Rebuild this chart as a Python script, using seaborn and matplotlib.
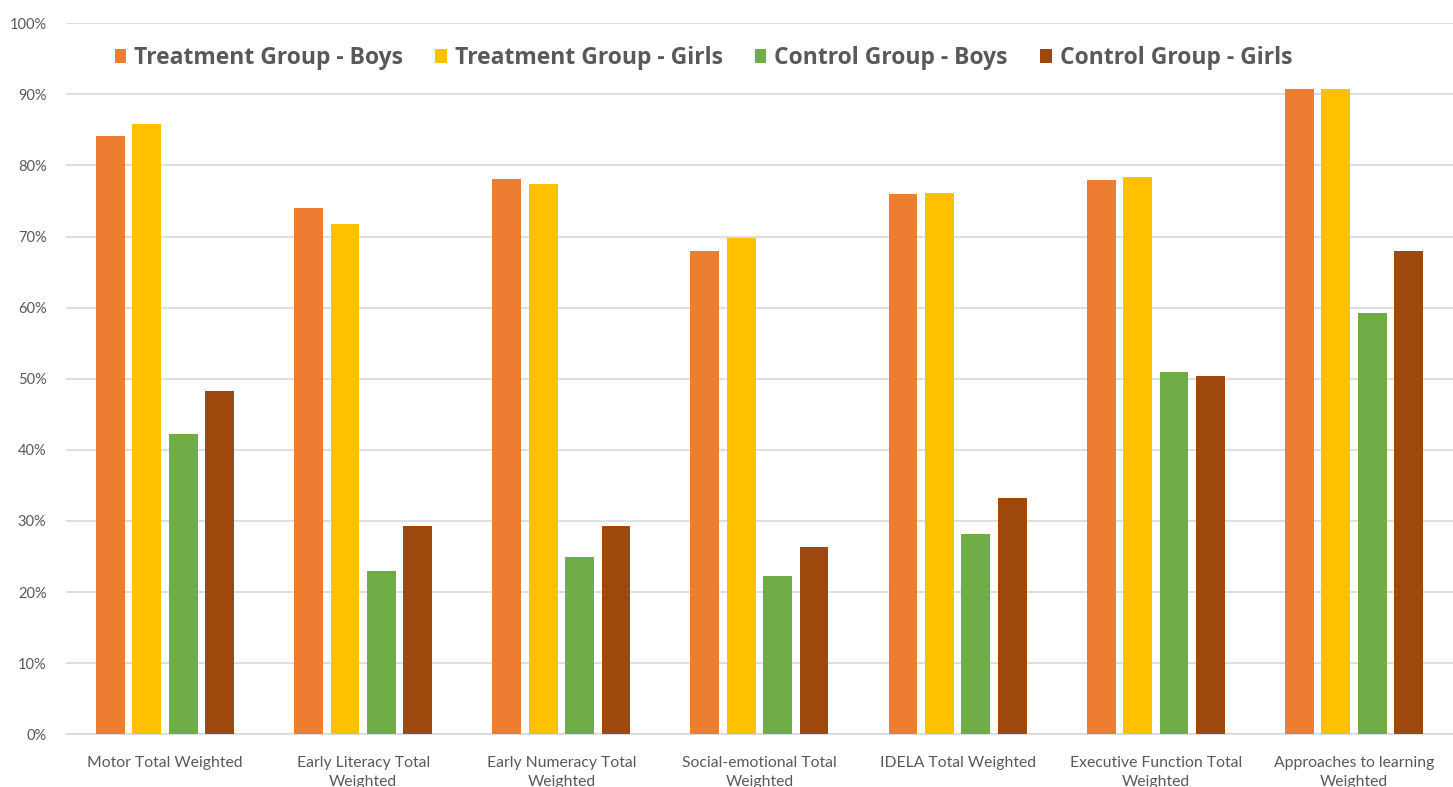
import matplotlib
matplotlib.use("Agg")
import matplotlib.pyplot as plt
import matplotlib.ticker as mticker
import seaborn as sns
import pandas as pd

categories = [
    "Motor Total Weighted",
    "Early Literacy Total\nWeighted",
    "Early Numeracy Total\nWeighted",
    "Social-emotional Total\nWeighted",
    "IDELA Total Weighted",
    "Executive Function Total\nWeighted",
    "Approaches to learning\nWeighted",
]
series_names = [
    "Treatment Group - Boys",
    "Treatment Group - Girls",
    "Control Group - Boys",
    "Control Group - Girls",
]
treatment_boys = [0.842, 0.740, 0.781, 0.680, 0.760, 0.779, 0.907]
treatment_girls = [0.858, 0.718, 0.774, 0.698, 0.762, 0.784, 0.907]
control_boys = [0.422, 0.230, 0.249, 0.222, 0.282, 0.510, 0.592]
control_girls = [0.483, 0.293, 0.293, 0.263, 0.332, 0.504, 0.680]
y_ticks = [0.0, 0.1, 0.2, 0.3, 0.4, 0.5, 0.6, 0.7, 0.8, 0.9, 1.0]

palette = ["#ED7D31", "#FFC000", "#70AD47", "#9E480E"]

rows = []
for name, vals in zip(series_names, [treatment_boys, treatment_girls, control_boys, control_girls]):
    for cat, v in zip(categories, vals):
        rows.append({"category": cat, "series": name, "value": v})
df = pd.DataFrame(rows)

sns.set_theme(style="white")
plt.rcParams["font.family"] = ["Lato", "DejaVu Sans"]

fig = plt.figure(figsize=(14.53, 7.87), dpi=100)
ax = fig.add_axes([0.0454, 0.067, 0.9546, 0.9034])

sns.barplot(
    data=df, x="category", y="value", hue="series",
    order=categories, hue_order=series_names, palette=palette,
    width=0.735, gap=0.21, saturation=1.0, edgecolor="none",
    errorbar=None, ax=ax, zorder=3,
)

ax.set_xlim(-0.5, len(categories) - 0.5)
ax.set_ylim(0, 1.0)
ax.set_yticks(y_ticks)
ax.yaxis.set_major_formatter(mticker.PercentFormatter(1.0, decimals=0))
ax.grid(axis="y", color="#d9d9d9", linewidth=1.2, zorder=0)
ax.set_axisbelow(True)
for s in ["top", "right", "left"]:
    ax.spines[s].set_visible(False)
ax.spines["bottom"].set_color("#d9d9d9")
ax.spines["bottom"].set_linewidth(1.2)
ax.set_xlabel("")
ax.set_ylabel("")
ax.tick_params(axis="y", length=0, labelsize=10.5, colors="#595959", pad=14)
ax.tick_params(axis="x", length=0, labelsize=11.3, colors="#595959", pad=16)
for lbl in ax.get_xticklabels():
    lbl.set_linespacing(1.45)

leg = ax.legend(
    loc="center left", bbox_to_anchor=(0.027, 0.951), ncol=4, frameon=False,
    borderpad=0, handlelength=0.5, handleheight=0.5, handletextpad=0.35,
    columnspacing=1.4,
    prop={"family": ["Open Sans", "DejaVu Sans"], "weight": "bold", "size": 16.5},
)
for t in leg.get_texts():
    t.set_color("#595959")

fig.savefig("out.png", dpi=100)
